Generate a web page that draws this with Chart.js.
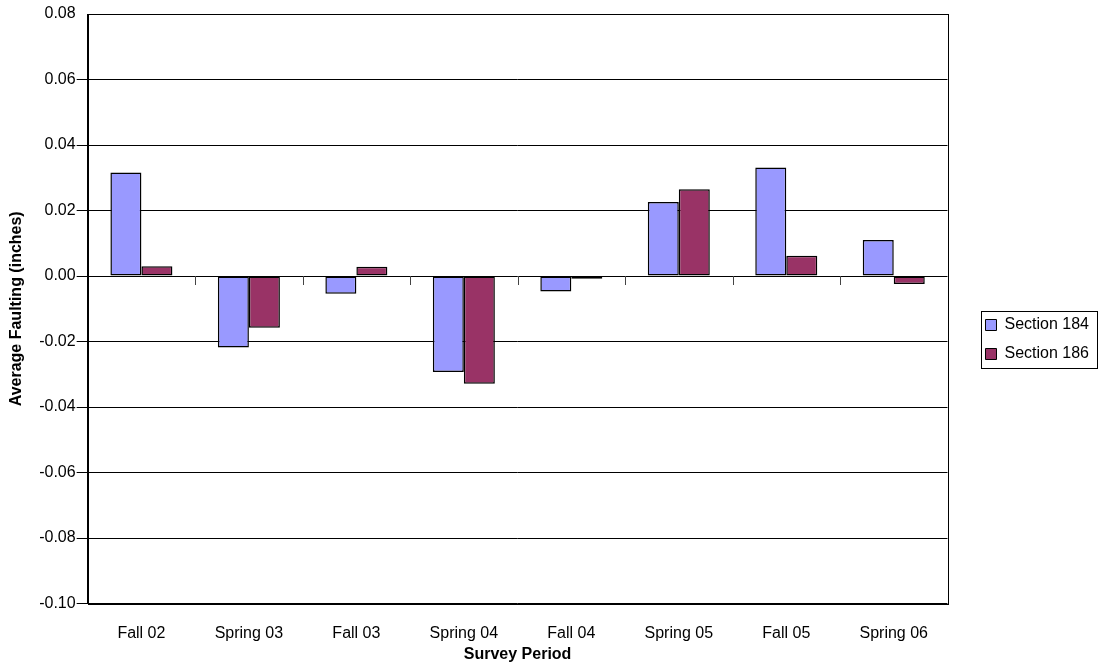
<!DOCTYPE html>
<html><head><meta charset="utf-8">
<script src="https://cdn.jsdelivr.net/npm/chart.js@4"></script>
<style>html,body{margin:0;padding:0;background:#fff;}#wrap{width:1099px;height:669px;}</style>
</head><body><div id="wrap"><canvas id="c" width="1099" height="669"></canvas></div>
<script>
const categories = ["Fall 02","Spring 03","Fall 03","Spring 04","Fall 04","Spring 05","Fall 05","Spring 06"];
const section184 = [0.0316,-0.0218,-0.0054,-0.0293,-0.0047,0.0226,0.0331,0.0110];
const section186 = [0.0030,-0.0158,0.0028,-0.0329,-0.0008,0.0265,0.0062,-0.0024];
const seriesNames = ["Section 184","Section 186"];
const yMin = -0.10, yMax = 0.08, yStep = 0.02;

const FONT = "'Liberation Sans', Arial, sans-serif";

const framePlugin = {
  id: 'frame',
  afterDatasetsDraw(chart) {
    const ctx = chart.ctx, a = chart.chartArea;
    const xs = chart.scales.x, ys = chart.scales.y;
    ctx.save();
    ctx.strokeStyle = '#000'; ctx.lineWidth = 1;
    ctx.strokeRect(Math.round(a.left)+0.5, Math.round(a.top)+0.5, Math.round(a.right-a.left), Math.round(a.bottom-a.top));
    // zero line ticks at category boundaries
    const y0 = Math.round(ys.getPixelForValue(0));
    ctx.strokeStyle = '#444';
    for (let i = 1; i < categories.length; i++) {
      const x = Math.round((xs.getPixelForValue(i-1) + xs.getPixelForValue(i)) / 2) + 0.5;
      ctx.beginPath(); ctx.moveTo(x, y0); ctx.lineTo(x, y0 + 9); ctx.stroke();
    }
    // legend box border around legend items
    const hb = chart.legend.legendHitBoxes || [];
    if (hb.length) {
      let l = Infinity, t = Infinity, b = -Infinity;
      hb.forEach(h => { l = Math.min(l, h.left); t = Math.min(t, h.top); b = Math.max(b, h.top + h.height); });
      const L = Math.round(l) - 4, T = Math.round(t) - 6, B = Math.round(b) + 6;
      const R = chart.width - 1;
      ctx.strokeStyle = '#000';
      ctx.strokeRect(L + 0.5, T + 0.5, R - L - 1, B - T);
    }
    ctx.restore();
  }
};

new Chart(document.getElementById('c'), {
  type: 'bar',
  data: {
    labels: categories,
    datasets: [
      { label: seriesNames[0], data: section184, backgroundColor: '#9999FF', borderColor: '#000', borderWidth: 1.5, borderSkipped: false },
      { label: seriesNames[1], data: section186, backgroundColor: '#993366', borderColor: '#000', borderWidth: 1.5, borderSkipped: false }
    ]
  },
  options: {
    responsive: false,
    animation: false,
    devicePixelRatio: 1,
    categoryPercentage: 0.577,
    barPercentage: 1.0,
    layout: { padding: { top: 14, left: 5, right: 0, bottom: 4 } },
    plugins: {
      legend: {
        position: 'right',
        labels: {
          font: { family: FONT, size: 16 }, color: '#000',
          boxWidth: 11, boxHeight: 11, padding: 13, useBorderRadius: false,
          generateLabels(chart) {
            return chart.data.datasets.map((d, i) => ({
              text: d.label, fillStyle: d.backgroundColor, strokeStyle: '#000', lineWidth: 1, datasetIndex: i
            }));
          }
        }
      },
      tooltip: { enabled: false }
    },
    scales: {
      x: {
        grid: { display: false, drawTicks: false },
        border: { display: false },
        ticks: { font: { family: FONT, size: 16 }, color: '#000', padding: 20, maxRotation: 0 },
        title: { display: true, text: 'Survey Period', font: { family: FONT, size: 16, weight: 'bold' }, color: '#000', padding: { top: -18, bottom: 1 } }
      },
      y: {
        min: yMin, max: yMax,
        grid: { color: '#000', lineWidth: 1, tickLength: 11, drawTicks: true,
          tickColor: c => (c.tick && Math.abs(c.tick.value - yMax) < 1e-9) ? 'rgba(0,0,0,0)' : '#000' },
        border: { display: true, color: '#000' },
        ticks: { stepSize: yStep, font: { family: FONT, size: 16 }, color: '#000', padding: 1,
          callback: v => Number(v).toFixed(2) },
        title: { display: true, text: 'Average Faulting (inches)', font: { family: FONT, size: 16, weight: 'bold' }, color: '#000', padding: { top: 2, bottom: 12 } }
      },
      gap: {
        type: 'linear', position: 'right', display: true,
        grid: { display: false, drawTicks: false }, border: { display: false },
        ticks: { display: false },
        afterFit(s) { s.width = 25; }
      }
    }
  },
  plugins: [framePlugin]
});
</script></body></html>
